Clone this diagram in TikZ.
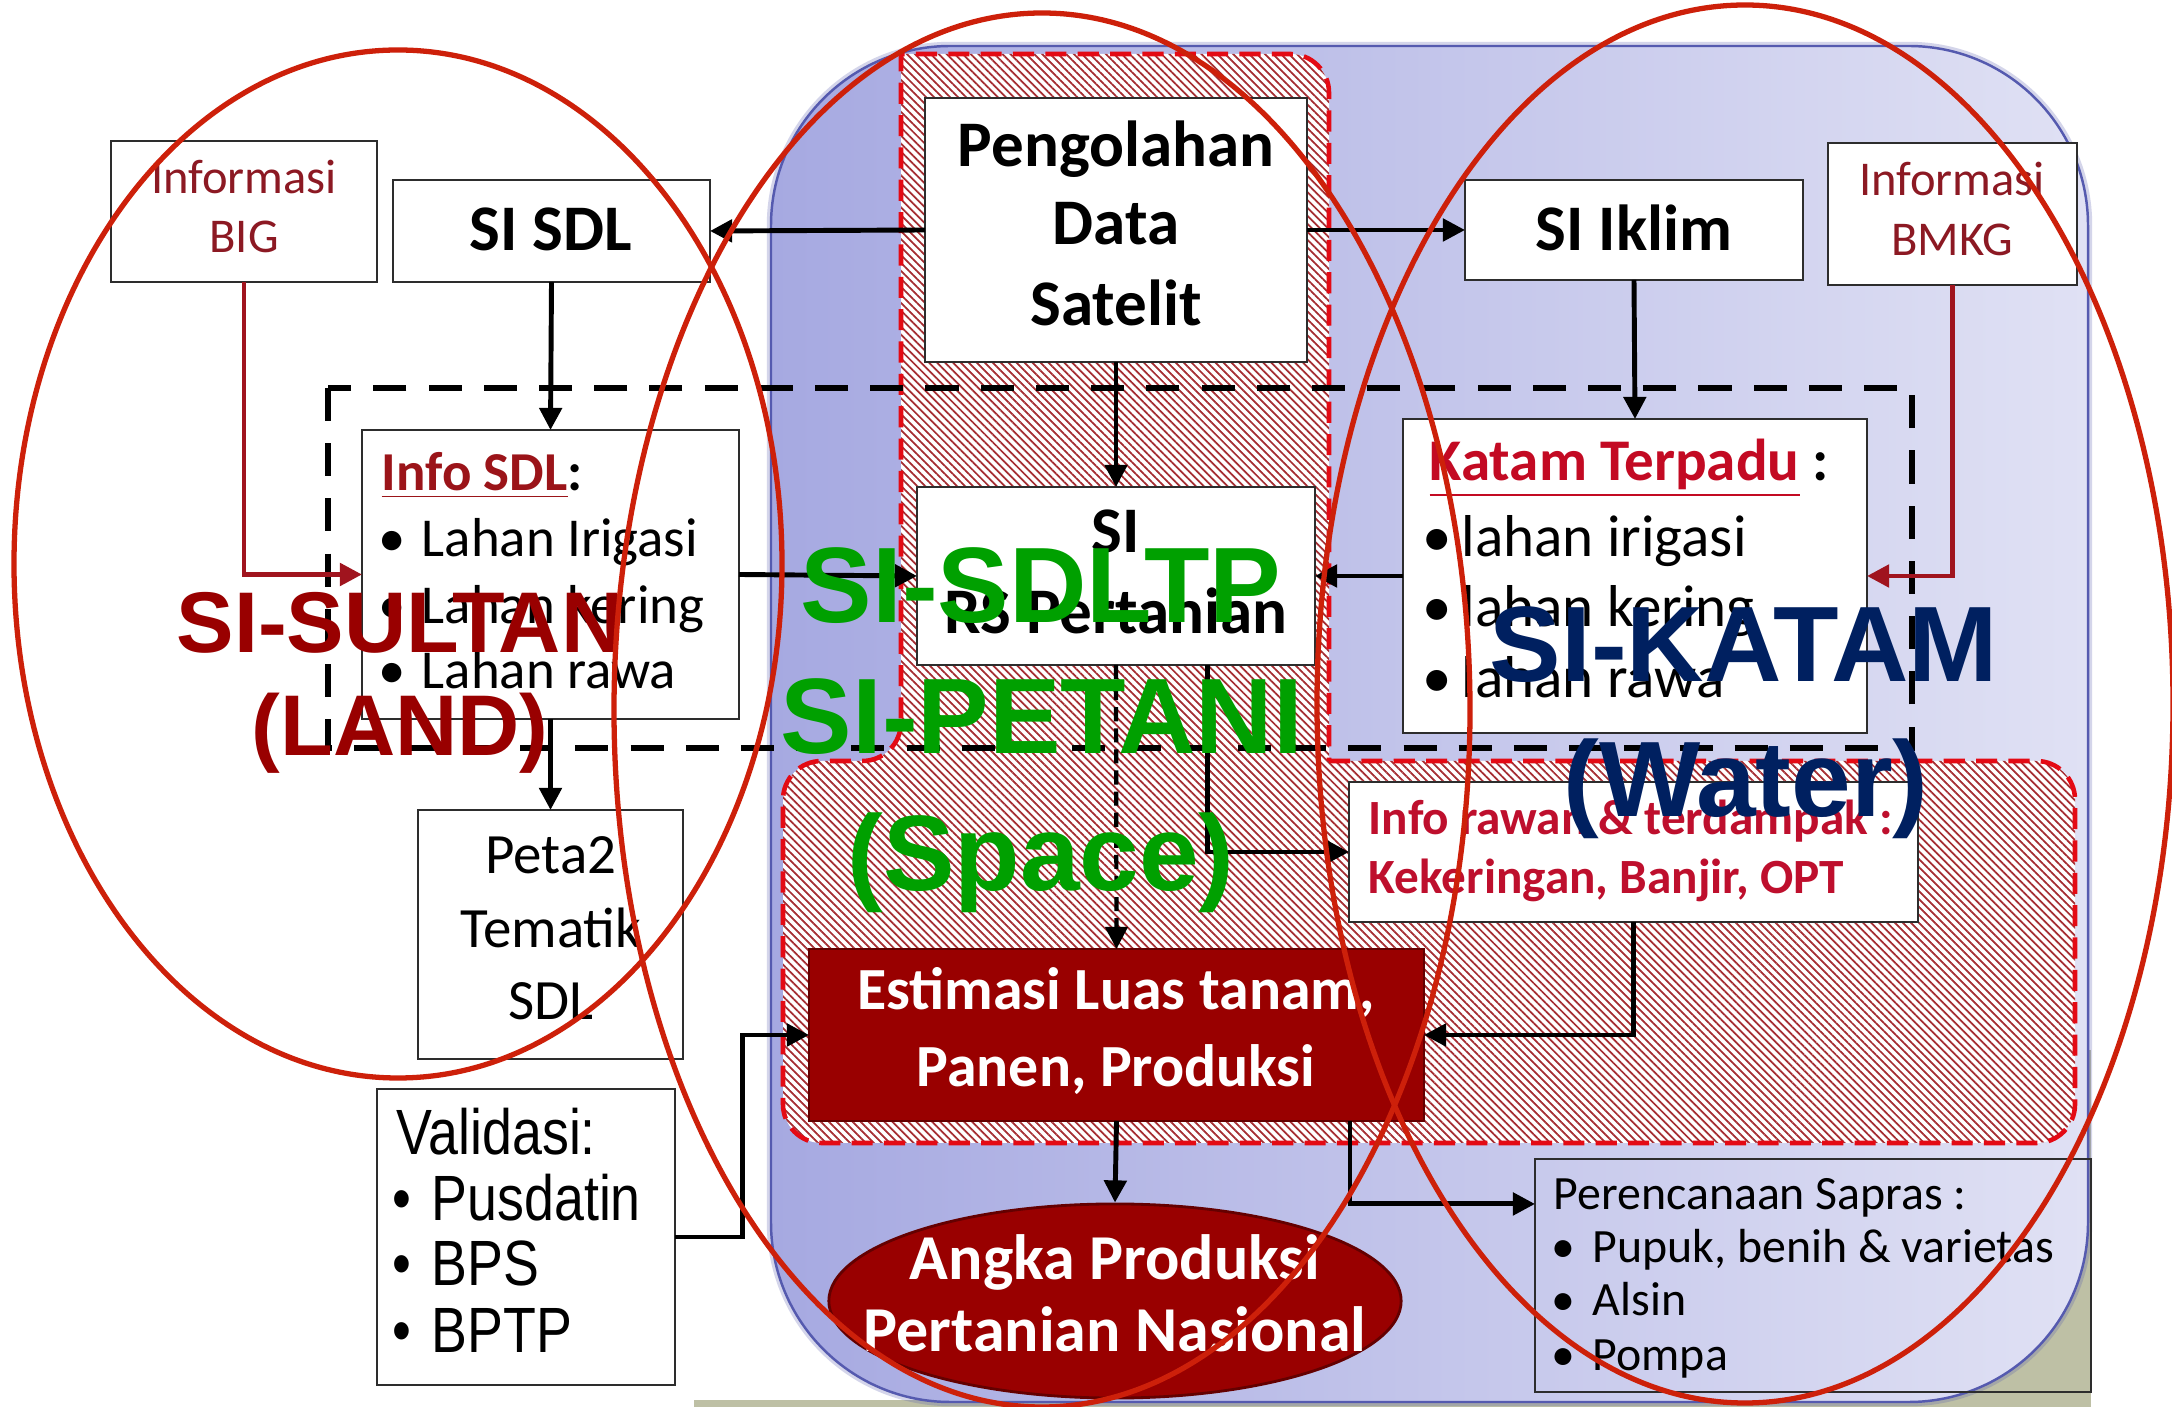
\documentclass[tikz,border=0pt]{standalone}
\usepackage{graphicx}
\usepackage{fontspec}
\setmainfont{Carlito}
\newfontfamily\arialfont{Liberation Sans}
\newfontfamily\narrowfont{Liberation Sans}[FakeStretch=0.84]
\usetikzlibrary{arrows.meta,patterns.meta,fit,shapes.geometric}
\newcommand\myfs[2]{\fontsize{#1}{#2}\selectfont}
\newcommand\mybul[1]{\makebox[#1][l]{•}}
\definecolor{infored}{RGB}{140,25,35}
\definecolor{sdlred}{RGB}{155,20,25}
\definecolor{katred}{RGB}{195,10,35}
\definecolor{rawred}{RGB}{190,15,45}
\definecolor{linkred}{RGB}{160,20,30}
\definecolor{estred}{RGB}{153,0,0}
\definecolor{estedge}{RGB}{100,0,0}
\definecolor{ellred}{RGB}{205,32,10}
\definecolor{dashred}{RGB}{228,10,20}
\definecolor{hatchred}{RGB}{165,45,50}
\definecolor{sigreen}{RGB}{0,160,0}
\definecolor{sinavy}{RGB}{0,32,96}
\definecolor{sulred}{RGB}{153,0,0}
\definecolor{boxline}{RGB}{45,45,45}
\definecolor{blueL}{RGB}{166,169,225}
\definecolor{blueR}{RGB}{224,225,244}
\definecolor{blueEdge}{RGB}{85,90,175}
\definecolor{photo}{RGB}{190,192,165}
\begin{document}
\begin{tikzpicture}[x=0.01cm,y=-0.01cm,
  box/.style={draw=boxline, line width=0.55pt, fill=white, inner sep=0pt, outer sep=0pt},
  estbox/.style={draw=estedge, line width=0.6pt, fill=estred, inner sep=0pt, outer sep=0pt},
  arr/.style={line width=1.4pt, -{Triangle[length=6.3pt,width=6.3pt]}},
  redarr/.style={arr, draw=linkred, color=linkred},
  dasharr/.style={arr, line width=1.2pt, dash pattern=on 4pt off 2pt},
  hatch/.style={preaction={fill=white}, pattern={Lines[angle=-45,distance=1.6pt,line width=0.5pt]}, pattern color=hatchred, draw=dashred, line width=1.3pt, dash pattern=on 6pt off 3.2pt},
  blackdash/.style={draw=black, line width=1.7pt, dash pattern=on 9.4pt off 6.3pt},
  ell/.style={draw=ellred, line width=1.5pt},
  infotxt/.style={font=\myfs{13.8pt}{16pt}, text=infored, inner sep=0pt, anchor=base},
  headtxt/.style={font=\myfs{18.5pt}{22pt}\bfseries, inner sep=0pt, anchor=base},
  sdltxt/.style={font=\myfs{15.6pt}{18pt}, inner sep=0pt, anchor=base west},
  kattxt/.style={font=\myfs{16.8pt}{19pt}, inner sep=0pt, anchor=base west},
  petatxt/.style={font=\myfs{16.2pt}{19pt}, inner sep=0pt, anchor=base},
  validtxt/.style={font=\narrowfont\myfs{18.2pt}{21pt}, inner sep=0pt, anchor=base west},
  rawtxt/.style={font=\myfs{14pt}{17pt}\bfseries, text=rawred, inner sep=0pt, anchor=base west},
  perentxt/.style={font=\myfs{13.6pt}{16pt}, inner sep=0pt, anchor=base west},
  esttxt/.style={font=\myfs{17pt}{20pt}\bfseries, text=white, inner sep=0pt, anchor=base},
  angtxt/.style={font=\myfs{18.2pt}{21pt}\bfseries, text=white, inner sep=0pt, anchor=base},
  biglab/.style={font=\arialfont\bfseries\myfs{30.5pt}{34pt}, inner sep=0pt, anchor=base},
  midlab/.style={font=\arialfont\bfseries\myfs{24.5pt}{28pt}, inner sep=0pt, anchor=base}
]
\useasboundingbox (0,0) rectangle (2172,1407);
\fill[white] (0,0) rectangle (2172,1407);
% photo remnants
\fill[photo] (694,1400) rectangle (2091,1407);
\fill[photo] (1900,1050) rectangle (2091,1407);
% blue rounded panel
\draw[blueEdge, line width=2.4pt, opacity=0.25, rounded corners=51pt] (771,46) rectangle (2088,1402);
\shade[left color=blueL, right color=blueR, rounded corners=51pt] (771,46) rectangle (2088,1402);
\draw[blueEdge, line width=0.7pt, rounded corners=51pt] (771,46) rectangle (2088,1402);
% hatched red regions
\path[hatch] (1329,761) [rounded corners=11pt] -- (2075,761) -- (2075,1143) -- (783,1143) -- (783,761) -- (901,761) [sharp corners] -- (901,54) [rounded corners=11pt] -- (1329,54) -- (1329,700) [sharp corners] -- cycle;
% black dashed frame
\draw[blackdash] (328,388) rectangle (1912,748);

% boxes
\node[box, fit={(111,141) (377,282)}] (big) {};
\node[box, fit={(393,180) (710,282)}] (sisdl) {};
\node[box, fit={(925,98) (1307,362)}] (peng) {};
\node[box, fit={(1465,180) (1803,280)}] (iklim) {};
\node[box, fit={(1828,143) (2077,285)}] (bmkg) {};
\node[box, fit={(362,430) (739,719)}] (infosdl) {};
\node[box, fit={(917,487) (1315,665)}] (sirs) {};
\node[box, fit={(1403,419) (1867,733)}] (katam) {};
\node[box, fit={(418,810) (683,1059)}] (peta) {};
\node[box, fit={(377,1089) (675,1385)}] (valid) {};
\node[box, fit={(1349,782) (1918,922)}] (rawan) {};
\node[estbox, fit={(809,949) (1424,1121)}] (estim) {};
\node[box, fill=none, fit={(1535,1159) (2091,1392)}] (peren) {};
\node[ellipse, fill=estred, draw=estedge, line width=0.8pt, minimum width=5.72cm, minimum height=1.94cm, inner sep=0pt] (angka) at (1115,1301) {};

% texts
\node[infotxt] (bigt1) at (244,194) {Informasi};
\node[infotxt] (bigt2) at (244,253) {BIG};
\node[headtxt] (sisdlt) at (551,251) {SI SDL};
\node[headtxt] (pengt1) at (1116,167) {Pengolahan};
\node[headtxt] (pengt2) at (1116,245) {Data};
\node[headtxt] (pengt3) at (1116,326) {Satelit};
\node[headtxt] (iklimt) at (1634,251) {SI Iklim};
\node[infotxt] (bmkgt1) at (1952,196) {Informasi};
\node[infotxt] (bmkgt2) at (1952,256) {BMKG};
\node[headtxt] (sirst1) at (1116,553) {SI};
\node[headtxt] (sirst2) at (1116,634) {RS Pertanian};

\node[sdltxt] (isdl0) at (381,491) {\textbf{\textcolor{sdlred}{\underline{Info SDL}}:}};
\node[sdltxt] (isdl1) at (378,557) {\mybul{0.43cm}Lahan Irigasi};
\node[sdltxt] (isdl2) at (378,624) {\mybul{0.43cm}Lahan kering};
\node[sdltxt] (isdl3) at (378,689) {\mybul{0.43cm}Lahan rawa};

\node[kattxt] (kat0) at (1429,481) {\textbf{\textcolor{katred}{\underline{Katam Terpadu}} :}};
\node[kattxt] (kat1) at (1422,557) {\mybul{0.39cm}lahan irigasi};
\node[kattxt] (kat2) at (1422,627) {\mybul{0.39cm}lahan kering};
\node[kattxt] (kat3) at (1422,698) {\mybul{0.39cm}lahan rawa};

\node[petatxt] (peta1) at (551,874) {Peta2};
\node[petatxt] (peta2) at (551,948) {Tematik};
\node[petatxt] (peta3) at (551,1020) {SDL};

\node[validtxt] (val0) at (396,1155) {Validasi:};
\node[validtxt] (val1) at (392,1221) {\mybul{0.39cm}Pusdatin};
\node[validtxt] (val2) at (392,1286) {\mybul{0.39cm}BPS};
\node[validtxt] (val3) at (392,1353) {\mybul{0.39cm}BPTP};

\node[rawtxt] (raw1) at (1368,835) {Info rawan \& terdampak :};
\node[rawtxt] (raw2) at (1368,894) {Kekeringan, Banjir, OPT};

\node[perentxt] (per0) at (1553,1210) {Perencanaan Sapras :};
\node[perentxt] (per1) at (1551,1263) {\mybul{0.41cm}Pupuk, benih \& varietas};
\node[perentxt] (per2) at (1551,1316) {\mybul{0.41cm}Alsin};
\node[perentxt] (per3) at (1551,1370) {\mybul{0.41cm}Pompa};

\node[esttxt] (est1) at (1116,1010) {Estimasi Luas tanam,};
\node[esttxt] (est2) at (1116,1087) {Panen, Produksi};
\node[angtxt] (ang1) at (1115,1280) {Angka Produksi};
\node[angtxt] (ang2) at (1115,1352) {Pertanian Nasional};

% connectors
\draw[arr] (peng.west) -- (sisdl.east);
\draw[arr] (peng.east) -- (iklim.west);
\draw[arr] (sisdl.south) -- (infosdl.north);
\draw[arr] (iklim.south) -- (katam.north);
\draw[arr] (peng.south) -- (sirs.north);
\draw[redarr] (big.south) |- (infosdl.west);
\draw[redarr] (bmkg.south) |- (katam.east);
\draw[arr] (infosdl.east) -- (sirs.west);
\draw[arr] (katam.west) -- (sirs.east);
\draw[arr] (infosdl.south) -- (peta.north);
\draw[dasharr] (sirs.south) -- (estim.north);
\draw[arr] ([xshift=0.91cm]sirs.south) |- (rawan.west);
\draw[arr] (rawan.south) |- (estim.east);
\draw[arr] (valid.east) -- ++(0.67cm,0) |- (estim.west);
\draw[arr] (estim.south) -- (angka.north);
\draw[arr] ([xshift=-0.74cm]estim.south east) |- ([yshift=0.715cm]peren.west);

% big labels
\node[biglab, text=sigreen] (sdltp) at (1041,623) {SI-SDLTP};
\node[biglab, text=sigreen] (petani) at (1042,754) {SI-PETANI};
\node[biglab, text=sigreen] (space) at (1041,891) {(Space)};
\node[midlab, text=sulred] (sultan) at (400,653) {SI-SULTAN};
\node[midlab, text=sulred] (land) at (400,756) {(LAND)};
\node[biglab, text=sinavy] (katamlab) at (1744,682) {SI-KATAM};
\node[biglab, text=sinavy] (water) at (1746,817) {(Water)};

% grouping ellipses
\draw[ell] (398,564) ellipse [x radius=384, y radius=514];
\draw[ell] (1042,710) ellipse [x radius=428, y radius=697];
\draw[ell] (1745,704) ellipse [x radius=428, y radius=699];
\end{tikzpicture}
\end{document}
